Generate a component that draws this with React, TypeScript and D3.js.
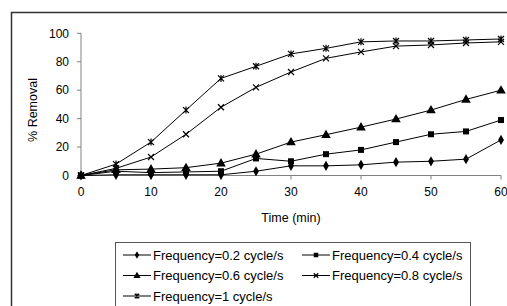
import React from "react";
import * as d3 from "d3";

const times = [0, 5, 10, 15, 20, 25, 30, 35, 40, 45, 50, 55, 60];
const f02 = [0, 0.5, 0.5, 0.5, 0.5, 3, 6.8, 6.8, 7.5, 9.4, 10, 11.5, 25];
const f04 = [0, 3, 2, 2.5, 3, 12, 10, 15, 18, 23.5, 29, 31, 39];
const f06 = [0, 4, 4.5, 5.5, 8.7, 15, 23.5, 28.7, 34, 39.7, 46, 53.5, 60];
const f08 = [0, 5, 13, 29, 48, 62, 72.8, 82.4, 86.9, 91, 91.8, 93.2, 94];
const f10 = [0, 8, 23.5, 46, 68.3, 76.8, 85.5, 89.4, 94, 94.6, 94.6, 95.3, 96];
const seriesNames = [
  "Frequency=0.2 cycle/s",
  "Frequency=0.4 cycle/s",
  "Frequency=0.6 cycle/s",
  "Frequency=0.8 cycle/s",
  "Frequency=1 cycle/s",
];
const seriesValues = [f02, f04, f06, f08, f10];
const markers = ["diamond", "square", "triangle", "times", "star"];
const xTicks = [0, 10, 20, 30, 40, 50, 60];
const yTicks = [0, 20, 40, 60, 80, 100];

const FONT = "Arial, 'Liberation Sans', sans-serif";

function Marker({ type, x, y, s = 1 }: { type: string; x: number; y: number; s?: number }) {
  const tr = `translate(${x},${y}) scale(${s})`;
  if (type === "diamond") {
    const p = d3.symbol().type(d3.symbolDiamond).size(30)();
    return <path d={p || ""} transform={tr} fill="#000" />;
  }
  if (type === "square") {
    const p = d3.symbol().type(d3.symbolSquare).size(36)();
    return <path d={p || ""} transform={tr} fill="#000" />;
  }
  if (type === "triangle") {
    const p = d3.symbol().type(d3.symbolTriangle).size(40)();
    return <path d={p || ""} transform={`translate(${x},${y + 0.5}) scale(${s})`} fill="#000" />;
  }
  const r = 3;
  const cross = `M${-r},${-r}L${r},${r}M${-r},${r}L${r},${-r}`;
  const d = type === "star" ? cross + `M0,${-r - 0.5}L0,${r + 0.5}` : cross;
  return <path d={d} transform={tr} stroke="#000" strokeWidth={1.2 / s} fill="none" />;
}

export default function App() {
  const W = 507;
  const H = 306;
  const x = d3.scaleLinear().domain([0, 60]).range([81, 501]);
  const y = d3.scaleLinear().domain([0, 100]).range([175.5, 33.3]);
  const line = d3
    .line<number>()
    .x((_, i) => x(times[i]))
    .y((v) => y(v));

  const legendItems = seriesNames.map((name, i) => ({
    name,
    marker: markers[i],
    col: i % 2,
    row: Math.floor(i / 2),
  }));
  const colX = [123, 302];
  const rowY = [255, 275.5, 296];

  return (
    <svg
      width={W}
      height={H}
      style={{ position: "absolute", left: 0, top: 0, background: "#fff" }}
      fontFamily={FONT}
    >
      <rect x={0} y={0} width={W} height={H} fill="#fff" />
      {/* outer frame */}
      <path d={`M11.5,${H + 2}V12.5H${W + 2}`} stroke="#333" strokeWidth={1.5} fill="none" />

      {/* axes */}
      <line x1={x(0)} x2={x(60)} y1={y(0)} y2={y(0)} stroke="#808080" strokeWidth={1} />
      <line x1={x(0)} x2={x(0)} y1={y(0)} y2={y(100)} stroke="#808080" strokeWidth={1} />
      {xTicks.map((t) => (
        <g key={`xt${t}`}>
          <line x1={x(t)} x2={x(t)} y1={y(0)} y2={y(0) + 4} stroke="#808080" />
          <text x={x(t)} y={y(0) + 20} textAnchor="middle" fontSize={12} fill="#000">
            {t}
          </text>
        </g>
      ))}
      {yTicks.map((t) => (
        <g key={`yt${t}`}>
          <line x1={x(0) - 4} x2={x(0)} y1={y(t)} y2={y(t)} stroke="#808080" />
          <text x={x(0) - 12} y={y(t) + 4.3} textAnchor="end" fontSize={12} fill="#000">
            {t}
          </text>
        </g>
      ))}
      <text x={291} y={222} textAnchor="middle" fontSize={12.5} fill="#000">
        Time (min)
      </text>
      <text
        transform={`translate(37,110) rotate(-90)`}
        textAnchor="middle"
        fontSize={12.5}
        fill="#000"
      >
        % Removal
      </text>

      {/* series */}
      {seriesValues.map((vals, i) => (
        <g key={`s${i}`}>
          <path d={line(vals) || ""} fill="none" stroke="#000" strokeWidth={1} />
          {vals.map((v, j) => (
            <Marker key={j} type={markers[i]} x={x(times[j])} y={y(v)} />
          ))}
        </g>
      ))}

      {/* legend */}
      <rect x={115.5} y={242.5} width={355} height={H} fill="#fff" stroke="#555" strokeWidth={1} />
      {legendItems.map((it) => {
        const lx = colX[it.col];
        const ly = rowY[it.row];
        return (
          <g key={it.name}>
            <line x1={lx} x2={lx + 28} y1={ly} y2={ly} stroke="#000" strokeWidth={1} />
            <Marker type={it.marker} x={lx + 14} y={ly} s={0.75} />
            <text x={lx + 30} y={ly + 4.5} fontSize={13} fill="#000">
              {it.name}
            </text>
          </g>
        );
      })}
    </svg>
  );
}
